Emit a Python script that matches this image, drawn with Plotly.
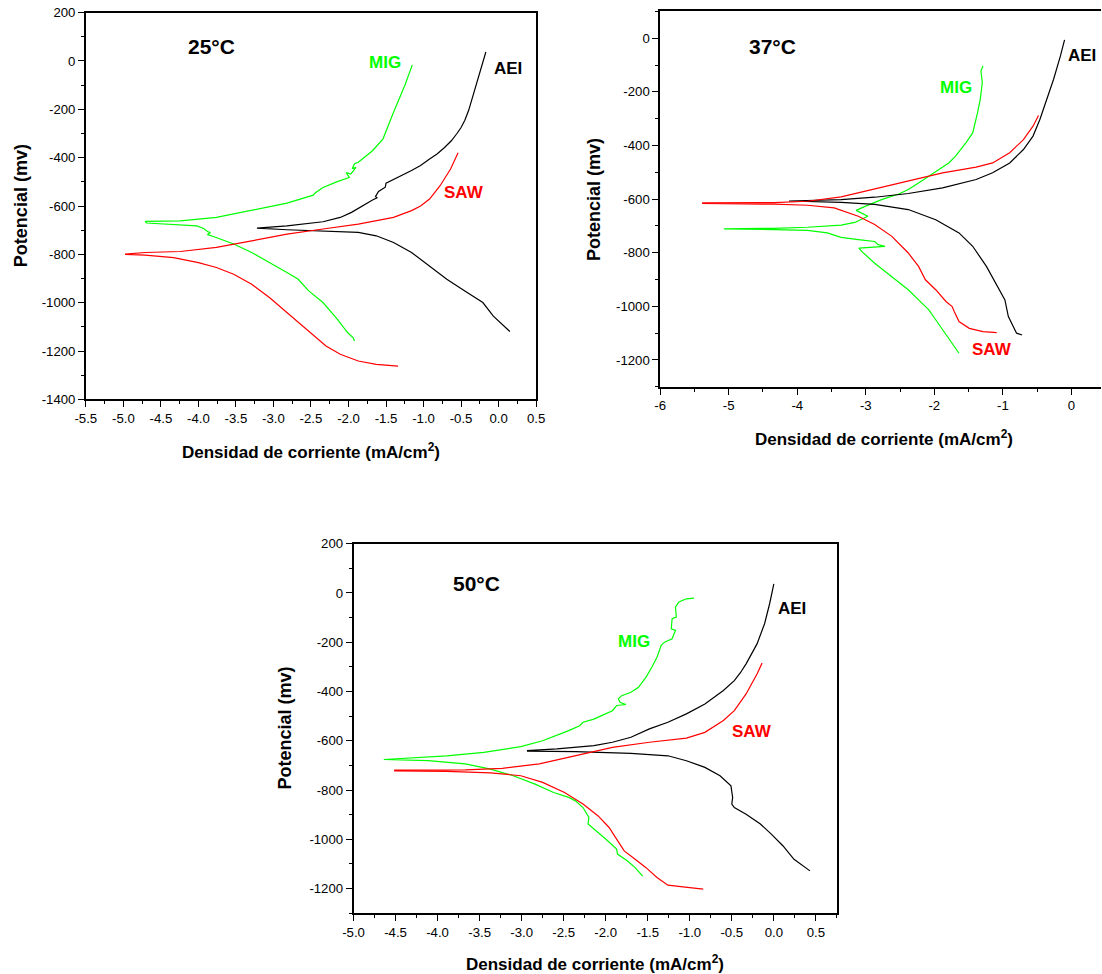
import plotly.graph_objects as go

# ---------------- 25 °C ----------------
mig25_x = [-1.15, -1.25, -1.40, -1.54, -1.68, -1.87, -1.92, -1.95, -1.90, -1.97, -2.03, -1.99, -2.15,
           -2.34, -2.44, -2.47, -2.82, -3.29, -3.76, -4.24, -4.71, -4.69, -4.24, -4.02, -3.93, -3.88,
           -3.84, -3.88, -3.80, -3.53, -3.29, -3.05, -2.82, -2.67, -2.53, -2.34, -2.15, -2.01, -1.94, -1.92]
mig25_y = [-16, -101, -212, -322, -371, -419, -425, -445, -440, -468, -462, -482, -499,
           -523, -545, -555, -588, -619, -647, -661, -663, -670, -676, -682, -693, -705,
           -710, -718, -726, -757, -792, -833, -875, -903, -951, -999, -1068, -1124, -1144, -1158]

aei25_x = [-0.17, -0.22, -0.26, -0.31, -0.35, -0.40, -0.45, -0.50, -0.56, -0.63, -0.72, -0.82, -0.92,
           -1.04, -1.16, -1.28, -1.40, -1.50, -1.51, -1.60, -1.64, -1.62, -1.68, -1.82, -1.96, -2.11,
           -2.34, -2.82, -3.22, -3.22, -2.82, -2.34, -1.87, -1.63, -1.40, -1.16, -0.92, -0.69, -0.45,
           -0.21, -0.07, 0.15]
aei25_y = [37, -15, -60, -110, -156, -205, -245, -275, -302, -330, -358, -385, -405,
           -432, -453, -472, -488, -505, -522, -540, -560, -566, -575, -599, -626, -647,
           -665, -682, -690, -691, -698, -702, -709, -723, -751, -792, -847, -903, -951,
           -999, -1055, -1119]

saw25_x = [-0.54, -0.64, -0.78, -0.92, -1.04, -1.16, -1.40, -1.87, -2.34, -2.82, -3.29, -3.76, -4.24,
           -4.71, -4.97, -4.97, -4.71, -4.33, -4.00, -3.76, -3.53, -3.29, -3.05, -2.82, -2.58, -2.44,
           -2.30, -2.11, -1.87, -1.63, -1.34]
saw25_y = [-380, -447, -516, -571, -600, -619, -647, -675, -695, -716, -744, -771, -788,
           -792, -799, -800, -803, -813, -834, -854, -882, -923, -979, -1041, -1103, -1144,
           -1179, -1213, -1241, -1255, -1262]

# ---------------- 37 °C ----------------
mig37_x = [-1.29, -1.32, -1.30, -1.33, -1.37, -1.44, -1.54, -1.69, -1.79, -1.93, -2.08, -2.23, -2.38,
           -2.52, -2.77, -3.01, -3.14, -2.97, -3.16, -3.36, -3.85, -4.34, -5.07, -5.07, -4.34, -3.85,
           -3.56, -3.36, -3.11, -2.87, -2.82, -2.72, -3.10, -3.06, -2.87, -2.62, -2.38, -2.23, -2.08,
           -1.98, -1.88, -1.74, -1.64]
mig37_y = [-103, -122, -166, -228, -278, -353, -390, -440, -465, -490, -515, -540, -564,
           -581, -602, -627, -642, -664, -687, -697, -705, -709, -710, -711, -714, -717,
           -726, -743, -751, -758, -770, -776, -783, -795, -839, -888, -938, -976, -1013,
           -1050, -1088, -1138, -1175]

aei37_x = [-0.10, -0.16, -0.26, -0.36, -0.46, -0.56, -0.70, -0.90, -1.15, -1.39, -1.88, -2.38, -2.87,
           -3.36, -4.12, -4.12, -3.36, -2.87, -2.38, -1.98, -1.64, -1.44, -1.24, -1.10, -0.97, -0.92,
           -0.85, -0.80, -0.72]
aei37_y = [-6, -66, -153, -228, -303, -365, -415, -465, -502, -527, -558, -579, -593,
           -602, -606, -607, -612, -620, -639, -677, -726, -776, -851, -913, -976, -1038,
           -1075, -1100, -1107]

saw37_x = [-0.48, -0.56, -0.70, -0.90, -1.15, -1.39, -1.88, -2.38, -2.87, -3.36, -3.85, -4.34, -5.38,
           -5.38, -4.34, -3.85, -3.46, -3.11, -2.87, -2.62, -2.38, -2.23, -2.13, -1.98, -1.83, -1.74,
           -1.71, -1.64, -1.49, -1.29, -1.09]
saw37_y = [-288, -328, -378, -427, -465, -481, -502, -533, -564, -592, -608, -613, -614,
           -616, -619, -623, -633, -664, -695, -739, -801, -851, -901, -938, -982, -1001,
           -1019, -1057, -1082, -1094, -1098]

# ---------------- 50 °C ----------------
mig50_x = [-0.95, -1.04, -1.13, -1.17, -1.16, -1.21, -1.22, -1.17, -1.21, -1.30, -1.34, -1.39, -1.45,
           -1.52, -1.61, -1.70, -1.81, -1.85, -1.83, -1.76, -1.87, -1.92, -2.05, -2.14, -2.27, -2.31,
           -2.44, -2.58, -2.75, -3.01, -3.45, -3.89, -4.64, -4.64, -4.11, -3.67, -3.37, -3.10, -2.84,
           -2.62, -2.44, -2.36, -2.27, -2.20, -2.21, -2.11, -2.00, -1.87, -1.86, -1.74, -1.65, -1.56]
mig50_y = [-21, -24, -37, -58, -98, -105, -146, -152, -186, -200, -213, -261, -301,
           -342, -383, -403, -417, -430, -444, -453, -457, -478, -498, -512, -525, -539,
           -559, -579, -600, -624, -647, -661, -674, -676, -681, -694, -715, -742, -776,
           -810, -830, -844, -871, -911, -938, -966, -999, -1040, -1060, -1088, -1115, -1149]

aei50_x = [0.00, -0.05, -0.11, -0.20, -0.33, -0.40, -0.47, -0.60, -0.82, -1.04, -1.26, -1.48, -1.70,
           -1.92, -2.14, -2.58, -2.93, -2.93, -2.36, -1.70, -1.26, -1.04, -0.82, -0.64, -0.51, -0.49,
           -0.50, -0.47, -0.33, -0.16, -0.03, 0.11, 0.24, 0.43]
aei50_y = [37, -44, -125, -207, -288, -325, -356, -396, -451, -491, -525, -552, -586,
           -606, -620, -633, -640, -642, -644, -651, -661, -681, -708, -742, -783, -830,
           -857, -871, -898, -938, -979, -1027, -1081, -1128]

saw50_x = [-0.14, -0.20, -0.33, -0.47, -0.60, -0.82, -1.04, -1.48, -1.92, -2.36, -2.79, -3.23, -3.67,
           -4.51, -4.51, -3.89, -3.37, -3.01, -2.75, -2.49, -2.27, -2.09, -1.96, -1.87, -1.78, -1.65,
           -1.52, -1.39, -1.26, -1.08, -0.84]
saw50_y = [-285, -329, -410, -478, -518, -566, -589, -606, -627, -661, -694, -712, -718,
           -719, -722, -724, -730, -742, -769, -810, -857, -905, -952, -999, -1047, -1081,
           -1115, -1155, -1186, -1193, -1202]

# ---------------- ticks ----------------
x_ticks_a = [-5.5, -5.0, -4.5, -4.0, -3.5, -3.0, -2.5, -2.0, -1.5, -1.0, -0.5, 0.0, 0.5]
x_labels_a = ["-5.5", "-5.0", "-4.5", "-4.0", "-3.5", "-3.0", "-2.5", "-2.0", "-1.5", "-1.0", "-0.5", "0.0", "0.5"]
x_ticks_b = [-6, -5, -4, -3, -2, -1, 0]
x_labels_b = ["-6", "-5", "-4", "-3", "-2", "-1", "0"]
x_ticks_c = [-5.0, -4.5, -4.0, -3.5, -3.0, -2.5, -2.0, -1.5, -1.0, -0.5, 0.0, 0.5]
x_labels_c = ["-5.0", "-4.5", "-4.0", "-3.5", "-3.0", "-2.5", "-2.0", "-1.5", "-1.0", "-0.5", "0.0", "0.5"]
y_ticks_a = [200, 0, -200, -400, -600, -800, -1000, -1200, -1400]
y_labels_a = ["200", "0", "-200", "-400", "-600", "-800", "-1000", "-1200", "-1400"]
y_ticks_b = [0, -200, -400, -600, -800, -1000, -1200]
y_labels_b = ["0", "-200", "-400", "-600", "-800", "-1000", "-1200"]
y_ticks_c = [200, 0, -200, -400, -600, -800, -1000, -1200]
y_labels_c = ["200", "0", "-200", "-400", "-600", "-800", "-1000", "-1200"]

GREEN = "#00FF00"
RED = "#FF0000"
BLACK = "#000000"
FONT = "Liberation Sans, Arial, sans-serif"

# Layout is specified in a 1102 x 974 frame; that frame is mapped onto the
# page region (body margin included) of 1118 x 990 px.
FRAME_W, FRAME_H = 1102, 974
REGION_W, REGION_H, BODY = 1118, 990, 8
SX, SY = REGION_W / FRAME_W, REGION_H / FRAME_H
W, H = REGION_W - BODY, REGION_H - BODY

fig = go.Figure()

panels = [
    ("", [(mig25_x, mig25_y, GREEN), (aei25_x, aei25_y, BLACK), (saw25_x, saw25_y, RED)],
     "25°C", (-3.82, 58), (-1.51, -5), (0.12, -32), (-0.46, -543)),
    ("2", [(mig37_x, mig37_y, GREEN), (aei37_x, aei37_y, BLACK), (saw37_x, saw37_y, RED)],
     "37°C", (-4.36, -32), (-1.69, -184), (0.16, -64), (-1.16, -1160)),
    ("3", [(mig50_x, mig50_y, GREEN), (aei50_x, aei50_y, BLACK), (saw50_x, saw50_y, RED)],
     "50°C", (-3.54, 37), (-1.66, -197), (0.22, -64), (-0.26, -563)),
]

annotations = []
for suf, curves, temp, tpos, mpos, apos, spos in panels:
    for xs, ys, col in curves:
        fig.add_trace(go.Scatter(x=xs, y=ys, mode="lines", line=dict(color=col, width=1.2),
                                 xaxis="x" + suf, yaxis="y" + suf, showlegend=False,
                                 hoverinfo="skip"))
    for txt, pos, col, size in [(temp, tpos, BLACK, 21), ("MIG", mpos, GREEN, 17),
                                ("AEI", apos, BLACK, 17), ("SAW", spos, RED, 17)]:
        annotations.append(dict(x=pos[0], y=pos[1], xref="x" + suf, yref="y" + suf,
                                text="<b>%s</b>" % txt, showarrow=False,
                                xanchor="center", yanchor="middle",
                                font=dict(family=FONT, size=size, color=col)))


def px_x(p):
    return min(1.0, (p * SX - BODY) / W)


def px_y(p):
    return 1 - (p * SY - BODY) / H


def xaxis(dom, rng, tv, tt, minor_dtick, anchor):
    return dict(domain=[px_x(dom[0]), px_x(dom[1])], range=rng, anchor=anchor,
                tickvals=tv, ticktext=tt, ticks="outside", ticklen=6, tickwidth=1.2,
                tickcolor="black", showline=True, linecolor="black", linewidth=1.5,
                mirror=True, showgrid=False, zeroline=False,
                tickfont=dict(family=FONT, size=13.2, color="black"),
                minor=dict(ticks="outside", ticklen=3, tickwidth=1.2, tickcolor="black",
                           dtick=minor_dtick, tick0=0, showgrid=False))


def yaxis(dom, rng, tv, tt, anchor, mirror=True):
    return dict(domain=[px_y(dom[1]), px_y(dom[0])], range=rng, anchor=anchor,
                tickvals=tv, ticktext=tt, ticks="outside", ticklen=6, tickwidth=1.2,
                tickcolor="black", showline=True, linecolor="black", linewidth=1.5,
                mirror=mirror, showgrid=False, zeroline=False,
                tickfont=dict(family=FONT, size=13.2, color="black"),
                minor=dict(ticks="outside", ticklen=3, tickwidth=1.2, tickcolor="black",
                           dtick=100, tick0=0, showgrid=False))


# frames of the three panels: (left, right), (top, bottom)
fr1 = ((83, 535), (13.5, 400))
fr2 = ((659.5, 1102), (12.3, 387.3))
fr3 = ((351.7, 837.3), (544, 913.3))

fig.update_layout(
    xaxis=xaxis(fr1[0], [-5.5, 0.5], x_ticks_a, x_labels_a, 0.25, "y"),
    yaxis=yaxis(fr1[1], [-1400, 200], y_ticks_a, y_labels_a, "x"),
    xaxis2=xaxis(fr2[0], [-6, -6 + (fr2[0][1] - fr2[0][0]) / 68.8], x_ticks_b, x_labels_b, 0.5, "y2"),
    yaxis2=yaxis(fr2[1], [-1300, 100], y_ticks_b, y_labels_b, "x2", mirror=False),
    xaxis3=xaxis(fr3[0], [-5, 0.755], x_ticks_c, x_labels_c, 0.25, "y3"),
    yaxis3=yaxis(fr3[1], [-1300, 200], y_ticks_c, y_labels_c, "x3"),
)

xtitle = "<b>Densidad de corriente (mA/cm<sup>2</sup>)</b>"
ytitle = "<b>Potencial (mv)</b>"
for fr, xt_x, xt_y, yt_x in [(fr1, 309, 451, 18), (fr2, 884, 438, 593), (fr3, 594, 963, 283)]:
    annotations.append(dict(x=px_x(xt_x), y=px_y(xt_y), xref="paper", yref="paper",
                            text=xtitle, showarrow=False, xanchor="center", yanchor="middle",
                            font=dict(family=FONT, size=17, color="black")))
    annotations.append(dict(x=px_x(yt_x), y=px_y((fr[1][0] + fr[1][1]) / 2),
                            xref="paper", yref="paper", text=ytitle, textangle=-90,
                            showarrow=False, xanchor="center", yanchor="middle",
                            font=dict(family=FONT, size=18, color="black")))

fig.update_layout(
    width=W, height=H, margin=dict(l=0, r=0, t=0, b=0),
    paper_bgcolor="white", plot_bgcolor="white",
    annotations=annotations, showlegend=False,
)

fig.write_html("out.html")
